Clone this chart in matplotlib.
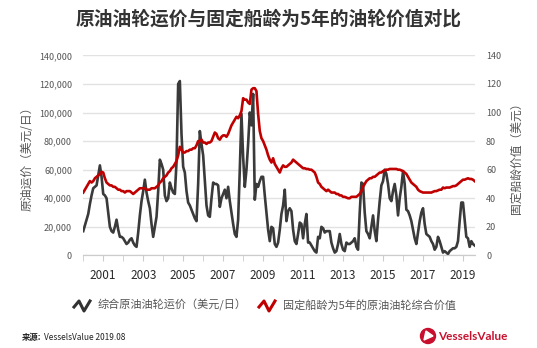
import numpy as np
import matplotlib
matplotlib.use("Agg")
import matplotlib.pyplot as plt
from matplotlib.lines import Line2D
from matplotlib.patches import Circle, Polygon

plt.rcParams['font.family'] = ['Noto Sans CJK SC', 'DejaVu Sans']

# monthly tanker earnings, USD/day (thousands), Jan 2000 - Aug 2019
rates_k = [
    17, 21, 25, 29, 36, 42, 47, 48, 49, 56, 63, 55,      # 2000
    43, 42, 40, 30, 20, 17, 16, 20, 25, 18, 13, 13,      # 2001
    12, 10, 8, 9, 11, 12, 9, 7, 6, 16, 28, 38,           # 2002
    45, 53, 44, 38, 33, 22, 13, 20, 27, 45, 67, 64,      # 2003
    60, 42, 38, 40, 51, 47, 44, 43, 65, 120, 122, 85,    # 2004
    62, 58, 45, 37, 35, 32, 29, 26, 24, 50, 87, 78,      # 2005
    70, 52, 35, 28, 27, 40, 51, 50, 50, 49, 34, 40,      # 2006
    43, 46, 40, 48, 38, 30, 22, 15, 13, 25, 60, 99,      # 2007
    69, 48, 60, 78, 100, 91, 113, 39, 50, 48, 52, 55,    # 2008
    55, 42, 30, 18, 10, 20, 19, 8, 6, 9, 18, 29,         # 2009
    35, 46, 24, 31, 33, 31, 18, 10, 8, 15, 23, 22,       # 2010
    12, 22, 29, 9, 9, 7, 5, 3, 2, 13, 12, 20,            # 2011
    19, 16, 17, 17, 17, 9, 5, 2, 3, 8, 15, 8,            # 2012
    4, 3, 9, 8, 8, 9, 10, 12, 6, 4, 30, 51,              # 2013
    50, 30, 17, 15, 12, 20, 28, 17, 10, 25, 38, 49,      # 2014
    52, 60, 57, 50, 40, 38, 45, 50, 42, 28, 40, 48,      # 2015
    59, 50, 32, 31, 28, 24, 18, 12, 8, 16, 24, 30,       # 2016
    33, 22, 15, 14, 13, 10, 8, 4, 6, 13, 10, 6,          # 2017
    2, 3, 2, 1, 3, 4, 5, 5, 6, 10, 24, 37,               # 2018
    37, 25, 13, 12, 6, 10, 8, 7,                         # 2019
]

# 5-year-old crude tanker composite value, USD m
values_m = [
    44, 46, 48, 50, 52, 51, 52, 54, 55, 56, 57, 58.5,
    58, 54, 51, 50, 49, 49, 48, 48, 47, 46, 46, 45,
    45, 44, 45, 45, 45, 44, 43, 44, 45, 46, 47, 47,
    47, 47, 46, 46, 46, 47, 47, 47, 48, 49, 51, 52,
    54, 55, 56, 58, 59, 61, 62, 64, 66, 70, 76, 74,
    72, 72, 73, 73, 74, 74, 75, 75, 77, 80, 80, 81,
    79, 79, 78, 79, 79, 80, 83, 86, 85, 82, 81, 83,
    84, 84, 83, 85, 88, 91, 93, 95, 97, 96, 98, 101,
    110, 109, 109, 107, 106, 116, 117, 117, 115, 99, 87, 82,
    80, 77, 74, 70, 67, 65, 68, 64, 62, 60, 58, 61,
    63, 62, 62, 63, 64, 65, 67, 66, 65, 64, 63, 62,
    61, 61, 60.5, 60.5, 60, 60, 59, 58, 55, 51, 50, 48,
    47, 46, 45, 46, 45, 44, 44, 44, 43, 43, 42, 42,
    41, 41, 40.5, 40, 40, 41, 41, 41, 41, 42, 43, 45,
    48, 50, 52, 53, 54, 54, 55, 55, 56, 57, 58, 58,
    59, 59.5, 60, 60, 60.5, 60.5, 60.5, 60.5, 60.5, 60, 60, 59.5,
    59, 58, 57, 55, 53, 51, 50, 49, 48, 46, 45, 44.5,
    44, 44, 44, 44, 44, 44, 44.5, 45, 45, 45.5, 46, 46,
    47.5, 47, 47.5, 47.5, 47.5, 48, 48.5, 48.5, 49, 50, 51, 52,
    53, 53, 53.5, 54, 53.5, 53.5, 53, 52,
]

year_ticks = list(range(2001, 2020, 2))
y_ticks = [0, 20000, 40000, 60000, 80000, 100000, 120000, 140000]

months = 2000 + np.arange(len(rates_k)) / 12.0
rates = np.array(rates_k) * 1000
values = np.array(values_m)

grey_txt = '#555555'
fig = plt.figure(figsize=(5.37, 3.48), dpi=100)
ax = fig.add_axes([0.155, 0.266, 0.7295, 0.575])
ax2 = ax.twinx()

ax.set_xlim(2000, 2019.6)
ax.set_ylim(0, 140000)
ax2.set_ylim(0, 140)

ax.set_yticks(y_ticks)
ax.set_yticklabels([f'{v:,}' for v in y_ticks])
ax2.set_yticks([v / 1000 for v in y_ticks])
ax2.set_yticklabels([str(v // 1000) for v in y_ticks])
ax.grid(axis='y', color='#e2e2e2', lw=1.0)
ax.set_axisbelow(True)

ax.set_xticks(year_ticks)
ax.set_xticks(range(2000, 2020), minor=True)
ax.tick_params(axis='x', which='both', length=4, color='#cccccc', labelsize=8.5,
               labelcolor='#2a2a2a', pad=6)
ax.tick_params(axis='y', length=0, labelsize=6.5, labelcolor=grey_txt, pad=8)
ax2.tick_params(axis='y', length=0, labelsize=6.5, labelcolor=grey_txt, pad=8)

for a in (ax, ax2):
    for s in ('top', 'left', 'right'):
        a.spines[s].set_visible(False)
    a.spines['bottom'].set_color('#cccccc')

ax.plot(months, rates, color='#3a3a3a', lw=1.9, zorder=3)
ax2.plot(months, values, color='#c00000', lw=1.9, zorder=4)

ax.set_ylabel('原油运价（美元/日）', fontsize=8.5, color=grey_txt, labelpad=4)
ax2.set_ylabel('固定船龄价值（美元）', fontsize=8.5, color=grey_txt, labelpad=6)

fig.text(0.5, 0.945, '原油油轮运价与固定船龄为5年的油轮价值对比', ha='center', va='center',
         fontsize=13.5, fontweight='bold', color='#333333')

# legend with zigzag icons
def zigzag(x0, y0, color):
    xs = np.array([0, 5, 10, 16]) / 537 + x0
    ys = np.array([-1, 5, -5, 5]) / 348 + y0
    fig.add_artist(Line2D(xs, ys, color=color, lw=2.2, transform=fig.transFigure))

zigzag(74 / 537, 1 - 306 / 348, '#333333')
fig.text(98 / 537, 1 - 305 / 348, '综合原油油轮运价（美元/日）', fontsize=8,
         color=grey_txt, va='center')
zigzag(259 / 537, 1 - 306 / 348, '#c00000')
fig.text(283 / 537, 1 - 305 / 348, '固定船龄为5年的原油油轮综合价值', fontsize=8,
         color=grey_txt, va='center')

fig.text(22 / 537, 1 - 337 / 348, '来源:', fontsize=6, fontweight='bold',
         color='#222222', va='center')
fig.text(44 / 537, 1 - 337 / 348, 'VesselsValue 2019.08', fontsize=6,
         color='#222222', va='center')

# logo
fig.add_artist(Circle((428, 348 - 336), 7.5, transform=None, color='#c8102e'))
tri = Polygon([(424, 348 - 340), (433, 348 - 336), (426, 348 - 331)], closed=True,
              transform=None, color='white')
fig.add_artist(tri)
fig.text(438 / 537, 1 - 336 / 348, 'VesselsValue', fontsize=8.5, color='#c8102e',
         va='center', family=['Lato', 'DejaVu Sans'], fontweight='bold')

fig.savefig('out.png', dpi=100)
